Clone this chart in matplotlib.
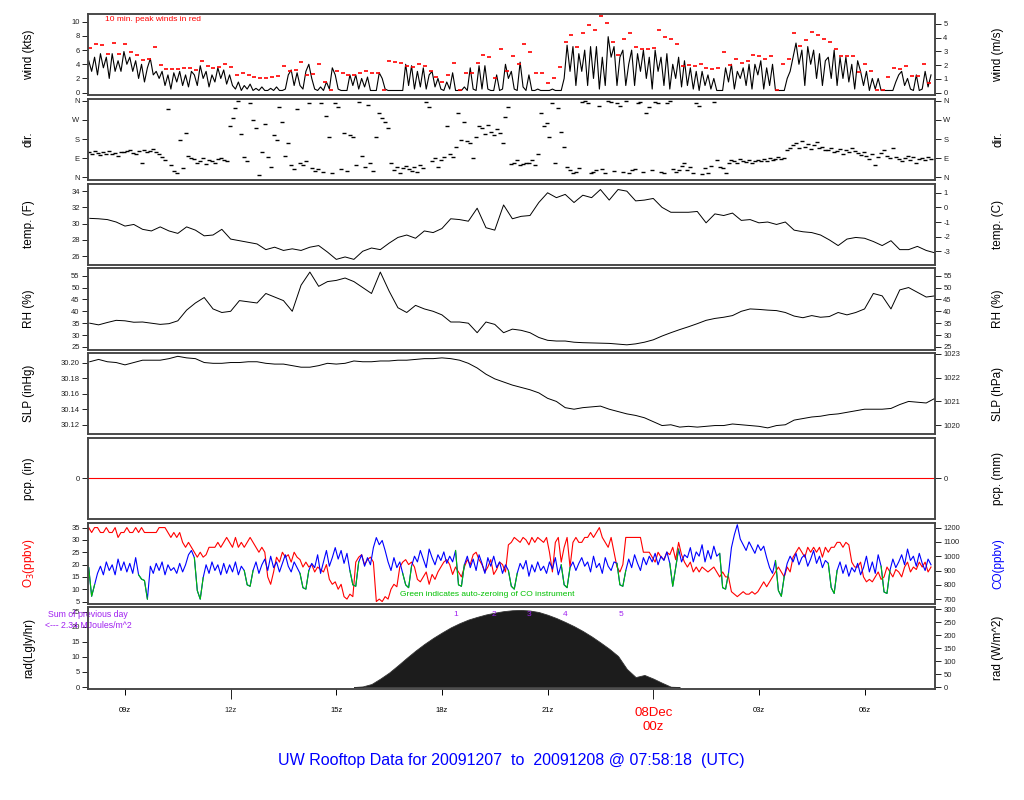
import numpy as np
import matplotlib
matplotlib.use('Agg')
import matplotlib.pyplot as plt
from matplotlib.ticker import FormatStrFormatter
from matplotlib.transforms import blended_transform_factory

plt.rcParams['font.family'] = ['Liberation Sans', 'DejaVu Sans']
plt.rcParams['axes.unicode_minus'] = False

# --- data (hours UTC, 24 = 00z 08Dec) ---
T0 = 7.97          # first sample, 07:58z
XLIM = (7.95, 32.0)

# 5-min wind speed (kts), one row per hour starting 08z
wind_kts = [
    [4.5, 3, 5, 2.5, 5.5, 3.5, 5, 2, 5.5, 3, 4.5, 3],
    [5.8, 4, 5, 3, 4.5, 2, 4, 1.5, 3.5, 4.8, 2.5, 3],
    [2, 3, 1, 2.5, 0.5, 2.8, 1.5, 3, 1, 2.5, 0.8, 3],
    [2.5, 1, 3.8, 2, 3, 0.8, 2.5, 1.5, 3.5, 2, 3.2, 1.2],
    [2.5, 1, 0.5, 1.5, 0.3, 1, 0.5, 1.2, 0.3, 0.6, 0.3, 0.8],
    [0.3, 0.3, 0.6, 0.3, 0.8, 0.3, 0.3, 0.5, 2.5, 3.2, 1, 2.8],
    [1, 0.5, 3, 4, 2, 0.5, 0.3, 0.8, 0.3, 1.5, 0.5, 3.5],
    [2.5, 0.5, 0.3, 0.3, 0.3, 2.5, 1, 2.5, 0.5, 2, 0.8, 2.2],
    [0.3, 0.3, 0.3, 2.8, 2, 0.5, 0.3, 0.3, 0.3, 0.3, 0.3, 0.3],
    [4, 1, 3.8, 0.5, 3, 0.8, 3.5, 0.5, 2.5, 3, 0.8, 2],
    [0.5, 0.3, 1.5, 0.5, 2.8, 0.3, 0.3, 0.3, 0.8, 0.3, 3.5, 0.5],
    [0.3, 3.8, 0.5, 3.8, 0.5, 0.3, 0.3, 2.5, 0.3, 0.5, 4, 2],
    [3, 0.5, 0.3, 4.3, 0.8, 0.3, 2.5, 0.3, 0.3, 0.5, 0.3, 0.3],
    [0.3, 0.3, 0.5, 0.3, 0.3, 0.3, 2, 6.7, 3, 6.5, 1, 5.5],
    [3, 6, 1, 6.5, 2, 6.5, 0.5, 5, 1, 7.9, 5, 6.5],
    [1, 5, 6, 1, 4, 6, 1, 5.5, 3, 6, 2, 5],
    [0.5, 6, 3, 5, 1, 5.5, 0.5, 4, 2, 5, 0.8, 4.5],
    [1, 3.5, 0.5, 3, 0.3, 3, 1, 2.5, 0.5, 2, 0.3, 0.3],
    [0.3, 3.5, 1.5, 4, 0.5, 3, 2, 3.5, 1, 4, 0.5, 4],
    [2.5, 4.5, 0.5, 3.5, 1, 4, 0.3, 0.3, 0.3, 0.3, 2, 3],
    [5, 7, 4, 6, 1, 6.5, 4, 6, 2, 5.5, 1, 4.5],
    [5, 2, 6, 1, 5, 2, 5, 1.5, 4, 0.5, 4.5, 3],
    [1, 3, 0.3, 2, 0.5, 2, 0.3, 0.3, 0.3, 0.3, 0.3, 1.5],
    [2.5, 3, 1, 2, 0.5, 0.3, 2.5, 0.3, 0.5, 3, 0.8, 2.5],
]

# 10-min peak winds (kts)
gust_kts = [
    [6.3, 6.9, 6.7, 5.5, 7.0, 5.5], [6.9, 5.8, 5.3, 4.6, 4.8, 6.5],
    [3.9, 3.3, 3.3, 3.3, 3.5, 3.5], [3.2, 4.4, 3.8, 3.5, 3.6, 4.0],
    [3.6, 2.5, 2.8, 2.5, 2.2, 2.0], [2.0, 2.2, 2.3, 3.8, 3.0, 3.2],
    [4.3, 2.5, 2.6, 4.1, 1.5, 0.3], [3.0, 2.8, 2.5, 2.5, 2.8, 3.0],
    [2.8, 2.8, 0.3, 4.4, 4.3, 4.2], [3.8, 3.6, 4.0, 3.8, 3.0, 2.2],
    [1.5, 2.5, 4.2, 0.3, 2.8, 2.8], [4.2, 5.3, 5.0, 2.0, 6.2, 3.0],
    [5.1, 4.1, 6.8, 5.8, 2.8, 2.7], [1.4, 2.1, 3.6, 7.1, 8.2, 6.5],
    [8.4, 9.5, 8.8, 10.8, 9.8, 7.2], [5.3, 7.6, 8.4, 6.4, 6.2, 6.2],
    [6.3, 8.8, 7.8, 7.6, 6.8, 3.8], [3.9, 3.7, 4.1, 3.5, 3.4, 3.5],
    [5.8, 3.9, 4.7, 4.2, 4.4, 5.3], [5.1, 4.8, 5.1, 0.3, 4.0, 4.8],
    [8.4, 6.6, 7.4, 8.6, 8.1, 7.5], [7.2, 6.2, 5.1, 5.2, 5.1, 2.9],
    [4.0, 3.1, 0.3, 0.3, 2.2, 3.5], [3.4, 3.8, 2.4, 2.4, 4.0, 1.4],
]

# 5-min wind direction (deg)
wdir_deg = [
    [120, 110, 125, 115, 105, 118, 112, 122, 108, 115, 100, 118],
    [120, 125, 130, 115, 108, 125, 70, 128, 120, 125, 132, 118],
    [110, 95, 80, 320, 60, 30, 20, 175, 45, 210, 100, 90],
    [85, 70, 75, 90, 65, 80, 75, 70, 85, 90, 80, 75],
    [240, 280, 325, 360, 205, 95, 75, 350, 270, 230, 10, 120],
    [250, 95, 50, 200, 175, 330, 260, 100, 160, 60, 40, 320],
    [70, 60, 75, 350, 45, 30, 40, 350, 25, 290, 190, 20],
    [350, 330, 40, 210, 30, 200, 190, 60, 355, 100, 50, 340],
    [66, 30, 191, 300, 277, 260, 230, 66, 34, 50, 22, 45],
    [55, 40, 30, 50, 25, 60, 45, 355, 330, 75, 90, 50],
    [80, 95, 240, 110, 95, 145, 300, 175, 260, 170, 160, 90],
    [190, 240, 230, 205, 245, 215, 200, 225, 210, 160, 285, 330],
    [65, 70, 80, 60, 65, 70, 68, 80, 60, 110, 300, 240],
    [255, 190, 348, 70, 325, 215, 145, 50, 34, 22, 28, 45],
    [355, 358, 350, 22, 28, 35, 335, 40, 22, 360, 355, 30],
    [350, 335, 28, 360, 22, 35, 40, 348, 355, 28, 300, 330],
    [35, 355, 348, 28, 22, 350, 360, 40, 28, 35, 55, 66],
    [35, 50, 20, 348, 335, 15, 45, 22, 55, 355, 80, 50],
    [45, 22, 66, 80, 75, 70, 85, 78, 72, 80, 70, 75],
    [80, 75, 85, 78, 90, 82, 85, 95, 88, 92, 130, 140],
    [150, 160, 140, 170, 145, 155, 135, 150, 165, 140, 145, 130],
    [130, 140, 120, 125, 135, 110, 130, 120, 140, 125, 115, 105],
    [120, 100, 85, 110, 60, 95, 115, 130, 100, 90, 140, 95],
    [85, 75, 90, 100, 80, 95, 70, 85, 90, 80, 95, 85],
]

# 15-min samples from 08z
temp_f = [30.65, 30.6, 30.5, 30.2, 29.7, 29.9, 29.3, 29.1, 29.6, 29.1, 28.8, 29.6,
          29.2, 28.5, 28.6, 29.3, 28.1, 27.9, 27.7, 27.5, 26.8, 27.1, 26.7, 26.9,
          26.7, 27.1, 27.3, 26.5, 25.6, 25.9,
          25.6, 26.6, 27.0, 26.8, 27.6, 28.3, 28.6, 28.2, 29.1, 28.9, 29.4, 30.6,
          30.5, 30.3, 31.9, 29.5, 29.2, 32.3, 30.6, 30.9, 31.0, 32.6, 33.8, 33.2,
          33.6, 32.6, 33.5, 33.2, 34.2, 32.9, 34.2, 34.0, 32.8, 32.9, 33.1, 32.0,
          31.4, 31.4, 31.4,
          31.5, 30.1, 31.2, 31.0, 31.3, 30.4, 30.5, 30.1, 30.2, 29.9, 30.2, 29.2,
          29.0, 28.9, 28.6, 28.0, 27.3, 28.1, 28.3, 28.2, 27.8, 27.3, 27.9, 26.8,
          26.8, 27.2, 26.7, 26.4]
rh_pct = [35.0, 34.3, 35.3, 36.2, 36.0, 35.4, 35.5, 35.0, 34.5, 34.8, 36.0, 40.5,
          43.5, 45.8, 41.0, 39.5, 40.0, 44.5, 44.0, 43.5, 47.5, 46.0, 44.5, 40.0,
          51.0, 56.5, 50.5, 52.5, 53.0, 54.0,
          52.5, 50.0, 47.5, 56.5, 48.5, 41.5, 39.5, 42.5, 41.0, 40.0, 38.5, 35.5,
          35.5, 35.0, 31.0, 35.5, 34.5, 31.0, 32.5, 32.0, 31.0, 29.0, 27.8, 27.5,
          27.5, 27.0, 26.8, 26.7, 26.6, 26.5, 26.2, 25.9, 26.3, 27.0, 28.0, 29.6,
          31.0, 32.3, 33.5,
          34.8, 36.2, 37.0, 37.5, 38.2, 40.0, 41.0, 40.8, 40.5, 40.3, 39.5, 38.0,
          37.3, 38.2, 37.5, 37.8, 39.5, 38.5, 39.5, 41.0, 47.5, 46.5, 41.0, 49.0,
          50.0, 48.0, 46.0, 46.5]
slp_inhg = [30.201, 30.204, 30.201, 30.200, 30.197, 30.200, 30.203, 30.203, 30.203,
            30.205, 30.208, 30.206, 30.205, 30.200, 30.199, 30.199, 30.200, 30.200,
            30.201, 30.201, 30.199, 30.198, 30.198, 30.196, 30.194, 30.194, 30.196,
            30.199, 30.198, 30.199,
            30.202, 30.201, 30.201, 30.202, 30.202, 30.203, 30.203, 30.204, 30.205,
            30.205, 30.206, 30.205, 30.203, 30.199, 30.193, 30.185, 30.179, 30.175,
            30.171, 30.168, 30.165, 30.161, 30.154, 30.150, 30.142, 30.140, 30.142,
            30.143, 30.144, 30.140, 30.137, 30.134, 30.132, 30.129, 30.124, 30.119,
            30.120, 30.117, 30.118,
            30.117, 30.118, 30.119, 30.119, 30.121, 30.120, 30.119, 30.118, 30.116,
            30.119, 30.120, 30.126, 30.128, 30.130, 30.131, 30.133, 30.134, 30.136,
            30.138, 30.140, 30.140, 30.140, 30.141, 30.146, 30.150, 30.149, 30.148,
            30.154]

pcp_hours = [7.95, 32.0]
pcp_in = [0.0, 0.0]

# 5-min ozone (ppbv) and CO (ppbv)
o3_ppb = [
    [35, 33, 35, 35, 33, 33, 35, 33, 33, 35, 31, 33],
    [33, 35, 33, 33, 35, 33, 35, 33, 33, 33, 33, 33],
    [35, 35, 35, 33, 31, 33, 31, 33, 29, 27, 29, 27],
    [25, 23, 25, 23, 24, 27, 27, 27, 29, 27, 29, 31],
    [29, 27, 31, 27, 29, 27, 29, 31, 29, 27, 25, 27],
    [25, 15, 12, 17, 23, 21, 25, 23, 24, 21, 25, 23],
    [22, 19, 21, 19, 20, 17, 19, 18, 17, 20, 14, 12],
    [13, 10, 12, 7, 6, 8, 7, 21, 23, 24, 20, 22],
    [23, 21, 5, 6, 5, 7, 6, 10, 12, 11, 19, 21],
    [22, 20, 21, 19, 14, 13, 15, 17, 12, 16, 14, 17],
    [19, 21, 22, 20, 16, 19, 17, 15, 19, 22, 20, 24],
    [25, 22, 20, 17, 19, 22, 16, 18, 21, 20, 17, 28],
    [29, 31, 30, 29, 31, 30, 28, 31, 29, 31, 30, 29],
    [31, 25, 17, 29, 31, 21, 27, 31, 19, 29, 31, 29],
    [29, 31, 31, 33, 31, 33, 35, 31, 29, 27, 31, 25],
    [19, 17, 20, 31, 31, 31, 31, 31, 31, 25, 25, 25],
    [23, 21, 25, 23, 22, 25, 24, 27, 22, 29, 24, 21],
    [19, 21, 17, 19, 17, 19, 18, 17, 18, 19, 17, 15],
    [17, 15, 15, 9, 8, 7, 8, 9, 8, 8, 9, 8],
    [9, 11, 13, 11, 13, 15, 17, 19, 17, 15, 19, 17],
    [23, 25, 27, 25, 23, 27, 25, 27, 25, 27, 23, 27],
    [25, 27, 27, 29, 29, 27, 29, 28, 21, 19, 19, 21],
    [15, 13, 14, 13, 15, 17, 14, 15, 19, 17, 15, 18],
    [17, 15, 19, 21, 17, 19, 18, 21, 19, 21, 17, 19],
]
co_ppb = [
    [920, 720, 800, 880, 930, 870, 960, 900, 940, 870, 980, 900],
    [960, 890, 950, 880, 990, 870, 840, 830, 700, 930, 880, 950],
    [900, 960, 870, 940, 900, 920, 880, 950, 890, 940, 1010, 1040],
    [990, 760, 700, 850, 940, 880, 960, 900, 940, 870, 950, 880],
    [940, 890, 960, 870, 930, 900, 800, 790, 900, 960, 880, 940],
    [980, 900, 1000, 920, 960, 890, 950, 1010, 930, 890, 960, 920],
    [880, 780, 770, 900, 950, 920, 1010, 880, 960, 1040, 930, 990],
    [1060, 980, 1040, 950, 1020, 900, 800, 790, 960, 1010, 930, 990],
    [940, 1060, 1130, 1080, 1110, 1040, 960, 900, 990, 920, 960, 880],
    [800, 780, 930, 1000, 960, 1040, 980, 920, 1050, 990, 940, 1010],
    [970, 1030, 950, 1000, 960, 1040, 800, 790, 940, 1000, 920, 980],
    [900, 1010, 950, 880, 990, 930, 1000, 920, 960, 880, 940, 900],
    [790, 770, 880, 950, 910, 970, 860, 940, 890, 960, 900, 930],
    [880, 960, 910, 990, 870, 940, 800, 780, 920, 960, 900, 950],
    [990, 930, 960, 890, 1000, 920, 950, 880, 990, 930, 900, 960],
    [950, 800, 790, 900, 980, 920, 1010, 950, 900, 990, 940, 1000],
    [960, 1020, 940, 1000, 970, 1030, 950, 790, 920, 1050, 960, 1010],
    [990, 1060, 960, 1030, 1000, 1080, 960, 1040, 980, 1070, 1000, 1020],
    [780, 770, 880, 1060, 1150, 1220, 1120, 1080, 1040, 1100, 1060, 1020],
    [1080, 1040, 1070, 990, 920, 880, 970, 760, 720, 860, 950, 1000],
    [960, 1020, 940, 990, 1010, 930, 980, 1040, 950, 1000, 920, 970],
    [950, 780, 740, 900, 960, 880, 940, 860, 920, 890, 950, 870],
    [920, 1000, 890, 960, 880, 1010, 930, 750, 740, 900, 980, 920],
    [960, 1010, 940, 1050, 970, 1000, 930, 1020, 950, 900, 980, 940],
]
co_zero_starts = [7.95, 9.45, 11.0, 12.45, 14.0, 15.45, 16.95, 18.45, 19.95,
                  21.45, 23.0, 24.5, 25.95, 27.5, 29.0, 30.5]

# 15-min solar radiation (Langley/hr) from 15:30z
rad_ly = [0, 0.2, 1.0, 2.8, 4.8, 7.2, 9.7, 12.1, 14.3, 16.3, 18.1, 19.8, 21.2,
          22.4, 23.3, 24.1, 24.7, 25.2, 25.5, 25.6, 25.4, 24.9, 24.0, 22.9, 21.6,
          20.2, 18.6, 16.8, 14.8, 12.7, 10.3, 6.0, 3.3, 4.0, 2.8, 1.4, 0.1, 0]
mj_hours = [18.38, 19.48, 20.48, 21.5, 23.09]
mj_labels = ['1', '2', '3', '4', '5']

xtick_hours = [9, 15, 18, 21, 27, 30]
xtick_labels = ['09z', '15z', '18z', '21z', '03z', '06z']

# --- time bases ---
wind = np.ravel(wind_kts)
t5 = T0 + np.arange(len(wind)) / 12.0
gust = np.ravel(gust_kts)
t10 = T0 + 0.04 + np.arange(len(gust)) / 6.0
wdir = np.ravel(wdir_deg)
t15 = 8.0 + np.arange(len(temp_f)) * 0.25
o3 = np.ravel(o3_ppb)
co = np.ravel(co_ppb)
trad = 15.5 + np.arange(len(rad_ly)) * 0.25

# --- layout in pixels ---
FW, FH = 1024, 800
LEFT, RIGHT = 88, 935
TOP0, PITCH, HGT = 14, 84.76, 81.3
TICK_FS = 5.5
LAB_FS = 8.5

fig = plt.figure(figsize=(FW / 100, FH / 100), dpi=100)


def style(ax):
    for s in ax.spines.values():
        s.set_linewidth(1.1)
        s.set_color('#444444')
    ax.tick_params(direction='out', length=4, width=0.7, labelsize=TICK_FS,
                   pad=2, colors='#222222')


def panel(i, ylim, yticks, rlim, rticks, llab, rlab, lcol='black', rcol='black'):
    top = TOP0 + i * PITCH
    ax = fig.add_axes([LEFT / FW, 1 - (top + HGT) / FH, (RIGHT - LEFT) / FW, HGT / FH])
    ax.set_xlim(*XLIM)
    ax.set_ylim(*ylim)
    ax.set_yticks(yticks)
    ax.set_xticks([])
    style(ax)
    ax2 = ax.twinx()
    ax2.set_xlim(*XLIM)
    ax2.set_ylim(*rlim)
    ax2.set_yticks(rticks)
    style(ax2)
    yc = 1 - (top + HGT / 2) / FH
    fig.text(29 / FW, yc, llab, rotation=90, ha='center', va='center',
             fontsize=LAB_FS, color=lcol)
    fig.text(998 / FW, yc, rlab, rotation=90, ha='center', va='center',
             fontsize=LAB_FS, color=rcol)
    return ax, ax2


# wind
ax, ax2 = panel(0, (-0.38, 11.1), range(0, 11, 2), (-0.38 * 0.5144, 11.1 * 0.5144),
                range(0, 6), 'wind (kts)', 'wind (m/s)')
ax.plot(t5, wind, color='black', lw=0.8)
ax.plot(t10, gust, ls='none', marker='_', ms=2.4, mew=1.2, color='red')
ax.text(0.02, 0.93, '10 min. peak winds in red', transform=ax.transAxes,
        color='red', fontsize=6, va='center')

# direction
dir_ticks = [0, 90, 180, 270, 360]
dir_names = ['N', 'E', 'S', 'W', 'N']
ax, ax2 = panel(1, (-12, 369), dir_ticks, (-12, 369), dir_ticks, 'dir.', 'dir.')
ax.set_yticklabels(dir_names)
ax2.set_yticklabels(dir_names)
ax.plot(t5, wdir, ls='none', marker='_', ms=2.6, mew=1.0, color='black')

# temperature
ax, ax2 = panel(2, (24.93, 34.94), range(26, 35, 2),
                ((24.93 - 32) / 1.8, (34.94 - 32) / 1.8), range(-3, 2),
                'temp. (F)', 'temp. (C)')
ax.plot(t15, temp_f, color='black', lw=0.7)

# RH
ax, ax2 = panel(3, (23.9, 58.1), range(25, 56, 5), (23.9, 58.1), range(25, 56, 5),
                'RH (%)', 'RH (%)')
ax.plot(t15, rh_pct, color='black', lw=0.7)

# SLP
ax, ax2 = panel(4, (30.1077, 30.2122), [30.12, 30.14, 30.16, 30.18, 30.20],
                (1019.63, 1023.02), [1020, 1021, 1022, 1023],
                'SLP (inHg)', 'SLP (hPa)')
ax.yaxis.set_major_formatter(FormatStrFormatter('%.2f'))
ax.plot(t15, slp_inhg, color='black', lw=0.7)

# precipitation
ax, ax2 = panel(5, (-1, 1), [0], (-1, 1), [0], 'pcp. (in)', 'pcp. (mm)')
ax.plot(pcp_hours, pcp_in, color='red', lw=0.8)

# ozone / CO
ax, ax2 = panel(6, (4.07, 37.03), range(5, 36, 5), (667, 1235), range(700, 1201, 100),
                'O$_3$(ppbv)', 'CO(ppbv)', lcol='red', rcol='blue')
ax.plot(t5, o3, color='red', lw=0.8)
ax2.plot(t5, co, color='blue', lw=0.8)
zero = np.zeros(len(co), bool)
for s in co_zero_starts:
    zero |= (t5 >= s) & (t5 <= s + 0.16)
idx = np.flatnonzero(zero)
runs = np.split(idx, np.flatnonzero(np.diff(idx) > 1) + 1)
for r in runs:
    a, b = max(r[0] - 1, 0), min(r[-1] + 2, len(co))
    ax2.plot(t5[a:b], co[a:b], color='#00C000', lw=0.8)
ax.text(16.8, 0.12, 'Green indicates auto-zeroing of CO instrument',
        transform=blended_transform_factory(ax.transData, ax.transAxes),
        color='#00C000', fontsize=6, va='center')

# radiation
ax, ax2 = panel(7, (-0.53, 26.47), range(0, 26, 5),
                (-0.53 * 11.622, 26.47 * 11.622), range(0, 301, 50),
                'rad(Lgly/hr)', 'rad (W/m^2)')
ax.fill_between(trad, rad_ly, 0, color='#1c1c1c', lw=0.6, edgecolor='#333333')
tr = blended_transform_factory(ax.transData, ax.transAxes)
for h, lab in zip(mj_hours, mj_labels):
    ax.text(h, 0.91, lab, transform=tr, color='#A020F0', fontsize=6,
            ha='center', va='center')
ax.text(0.0, 0.91, 'Sum of previous day', transform=ax.transAxes,
        color='#A020F0', fontsize=6.3, ha='center', va='center')
ax.text(0.0, 0.78, '<--- 2.34 MJoules/m^2', transform=ax.transAxes,
        color='#A020F0', fontsize=6.3, ha='center', va='center')

# bottom time axis
ax.set_xticks(xtick_hours, xtick_labels, minor=True)
ax.set_xticks([12, 24], ['12z', ''])
ax.tick_params(axis='x', which='minor', direction='out', length=4, width=0.7,
               labelsize=TICK_FS, pad=9)
ax.tick_params(axis='x', which='major', direction='out', length=7, width=0.7,
               labelsize=TICK_FS, pad=6)
ax.text(24, -0.22, '08Dec\n00z', transform=tr, color='red', fontsize=9.5,
        ha='center', va='top', linespacing=1.25)

fig.text(0.4995, 1 - 760 / FH, 'UW Rooftop Data for 20091207  to  20091208 @ 07:58:18  (UTC)',
         color='blue', fontsize=11.5, ha='center', va='center')

fig.savefig('out.png', dpi=100)
